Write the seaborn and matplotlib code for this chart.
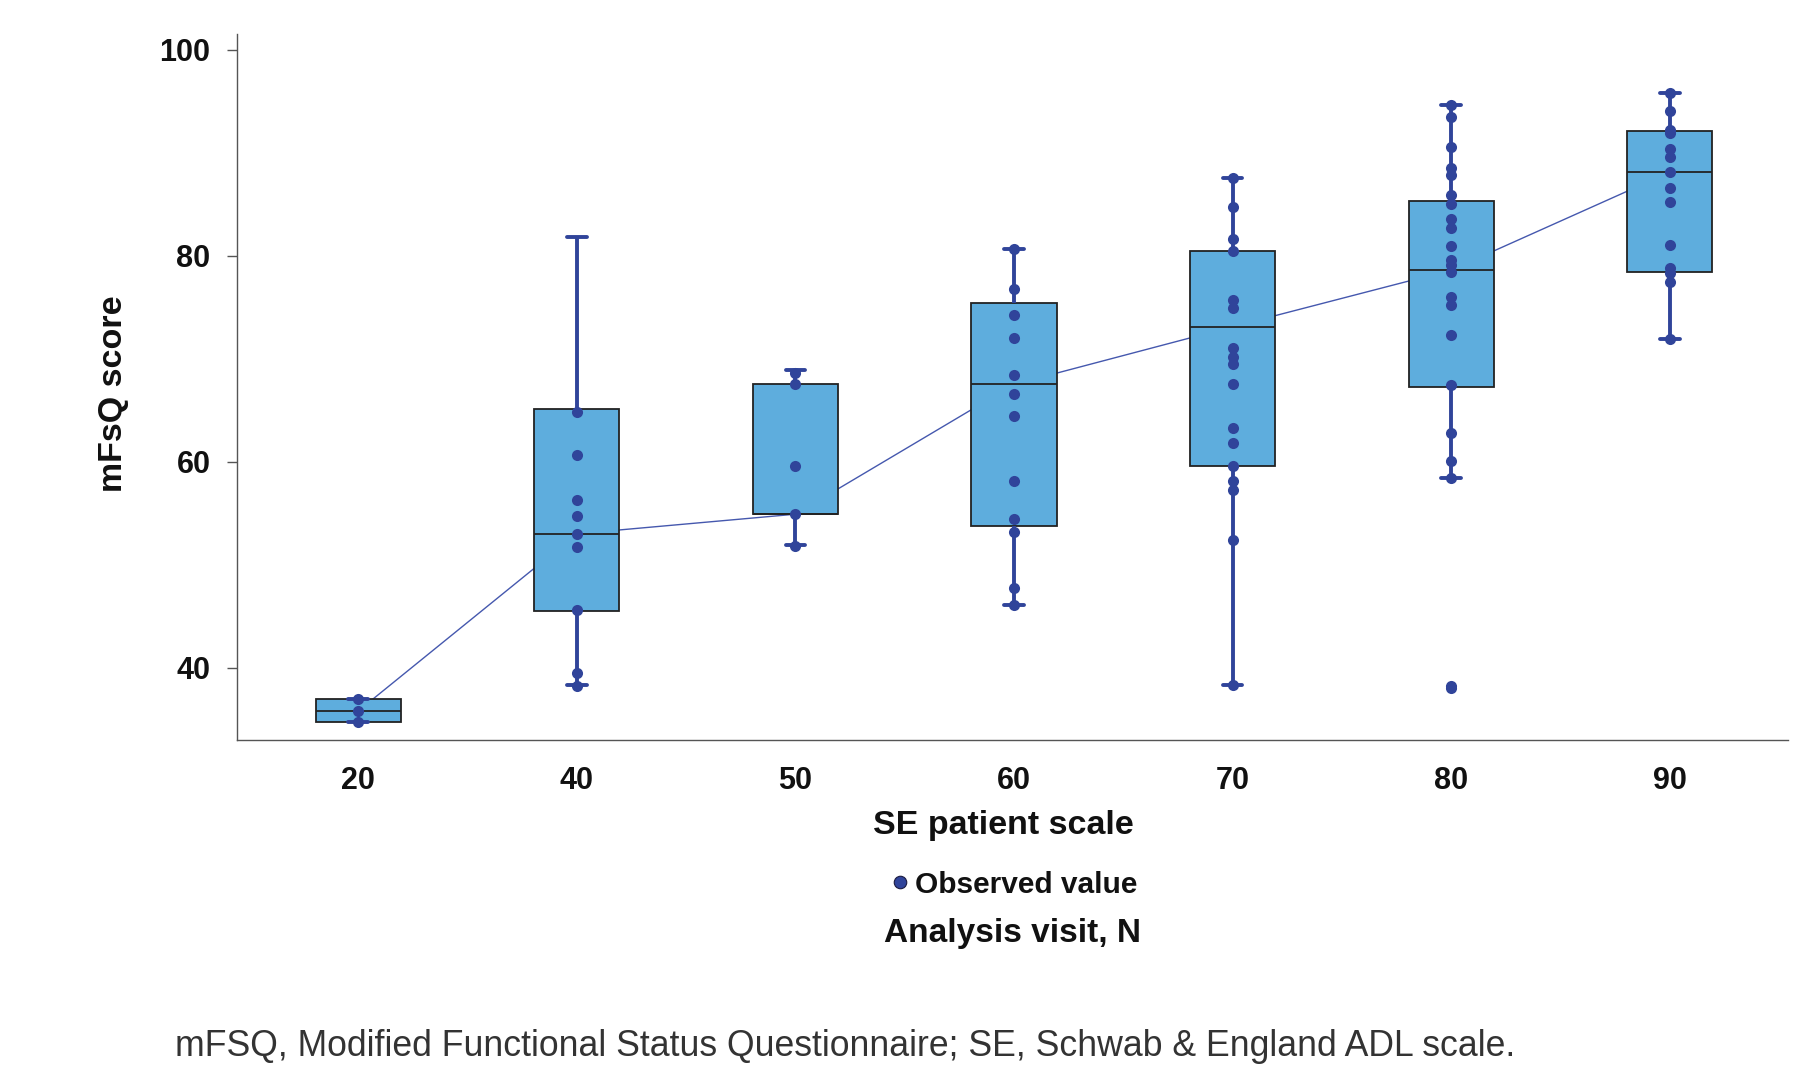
import numpy as np
import pandas as pd
import matplotlib
matplotlib.use("Agg")
import matplotlib.pyplot as plt
from matplotlib.lines import Line2D
import seaborn as sns

# ---- data ----
categories = ["20", "40", "50", "60", "70", "80", "90"]

# box statistics per category: lower whisker, Q1, median, Q3, upper whisker
whisker_low = [34.7, 38.3, 51.9, 46.1, 38.3, 58.4, 71.9]
q1_values   = [34.7, 45.5, 54.9, 53.8, 59.6, 67.2, 78.4]
medians     = [35.8, 53.0, 54.9, 67.5, 73.1, 78.6, 88.1]
q3_values   = [37.0, 65.1, 67.5, 75.4, 80.4, 85.3, 92.1]
whisker_high = [37.0, 81.8, 68.9, 80.6, 87.5, 94.6, 95.8]

# observed values per category
obs_20 = [37.0, 35.8, 34.7]
obs_40 = [64.8, 60.6, 56.3, 54.7, 53.0, 51.7, 45.6, 39.5, 38.2]
obs_50 = [68.6, 67.5, 59.6, 54.9, 51.8]
obs_60 = [80.6, 76.8, 74.2, 72.0, 68.4, 66.6, 64.4, 58.1, 54.4, 53.2, 47.7, 46.1]
obs_70 = [87.5, 84.7, 81.6, 80.4, 75.7, 74.9, 71.0, 70.2, 69.5, 67.5, 63.3,
          61.8, 59.6, 58.1, 57.2, 52.4, 38.3]
obs_80 = [94.6, 93.5, 90.5, 88.5, 87.8, 85.9, 85.0, 83.6, 82.7, 80.9, 79.6,
          79.1, 78.4, 76.0, 75.2, 72.3, 67.4, 62.8, 60.1, 58.4, 38.2, 38.0]
obs_90 = [95.8, 94.0, 92.2, 91.9, 90.3, 89.6, 88.1, 86.6, 85.2, 81.0, 78.8,
          78.3, 77.4, 71.9]

x_label = "SE patient scale"
y_label = "mFsQ score"
legend_label = "Observed value"
sub_label = "Analysis visit, N"
footnote = "mFSQ, Modified Functional Status Questionnaire; SE, Schwab & England ADL scale."
y_ticks = [40, 60, 80, 100]

# ---- colours ----
box_fill = "#5eaddd"
dot_color = "#30449a"
line_color = "#4558ae"
edge_color = "#222222"

# ---- tables for seaborn ----
box_rows = []
for c, a, b, m, d, e in zip(categories, whisker_low, q1_values, medians, q3_values, whisker_high):
    for v in (a, b, m, d, e):
        box_rows.append({"scale": c, "value": v})
box_df = pd.DataFrame(box_rows)

obs_lists = [obs_20, obs_40, obs_50, obs_60, obs_70, obs_80, obs_90]
pt_rows = []
for c, vals in zip(categories, obs_lists):
    for v in vals:
        pt_rows.append({"scale": c, "value": v})
pt_df = pd.DataFrame(pt_rows)
med_df = pd.DataFrame({"scale": categories, "value": medians})

sns.set_style("white")
plt.rcParams["font.family"] = ["Liberation Sans", "DejaVu Sans"]

fig = plt.figure(figsize=(17.95, 10.66), dpi=100)
ax = fig.add_axes([0.132, 0.306, 0.864, 0.662])

# median connecting line (behind boxes)
sns.pointplot(data=med_df, x="scale", y="value", order=categories, color=line_color,
              marker="", linestyle="-", linewidth=1.0, errorbar=None, ax=ax, zorder=1)

sns.boxplot(data=box_df, x="scale", y="value", order=categories, whis=(0, 100),
            showfliers=False, width=0.39, color=box_fill, saturation=1,
            linecolor=edge_color, linewidth=1.3,
            whiskerprops=dict(color=dot_color, linewidth=2.8),
            capprops=dict(color=dot_color, linewidth=2.8),
            medianprops=dict(color=edge_color, linewidth=1.3),
            capwidths=0.09, ax=ax)

sns.stripplot(data=pt_df, x="scale", y="value", order=categories, jitter=False,
              color=dot_color, size=8, linewidth=0, ax=ax, zorder=5)

ax.set_xlim(-0.555, 6.54)
ax.set_ylim(33.0, 101.5)
ax.set_yticks(y_ticks)
ax.set_xlabel("")
ax.set_ylabel("")

for side in ["top", "right"]:
    ax.spines[side].set_visible(False)
for side in ["left", "bottom"]:
    ax.spines[side].set_color("#555555")
    ax.spines[side].set_linewidth(1.0)

ax.tick_params(axis="y", which="major", left=True, length=7, width=1, color="#555555",
               pad=12, labelsize=22)
ax.tick_params(axis="x", which="major", bottom=False, length=0, pad=19, labelsize=22)
for lab in ax.get_xticklabels() + ax.get_yticklabels():
    lab.set_fontweight("bold")
    lab.set_color("#111111")

fig.text(0.0634, 0.631, y_label, rotation=90, ha="center", va="center",
         fontsize=24.5, fontweight="bold", color="#111111")
fig.text(0.559, 0.226, x_label, ha="center", va="center", fontsize=24.5,
         fontweight="bold", color="#111111")

handle = Line2D([], [], marker="o", linestyle="", markersize=9,
                markerfacecolor=dot_color, markeredgecolor="#1a1a40", markeredgewidth=0.8)
fig.legend([handle], [legend_label], loc="center", bbox_to_anchor=(0.564, 0.170),
           frameon=False, handletextpad=0.1, handlelength=0.8,
           labelcolor="#111111",
           prop={"weight": "bold", "size": 21.5, "family": "Liberation Sans"})
fig.text(0.564, 0.124, sub_label, ha="center", va="center", fontsize=24,
         fontweight="bold", color="#111111")

fig.text(0.0975, 0.0185, footnote, ha="left", va="center", fontsize=25.7, color="#333333")

fig.savefig("out.png", dpi=100)
